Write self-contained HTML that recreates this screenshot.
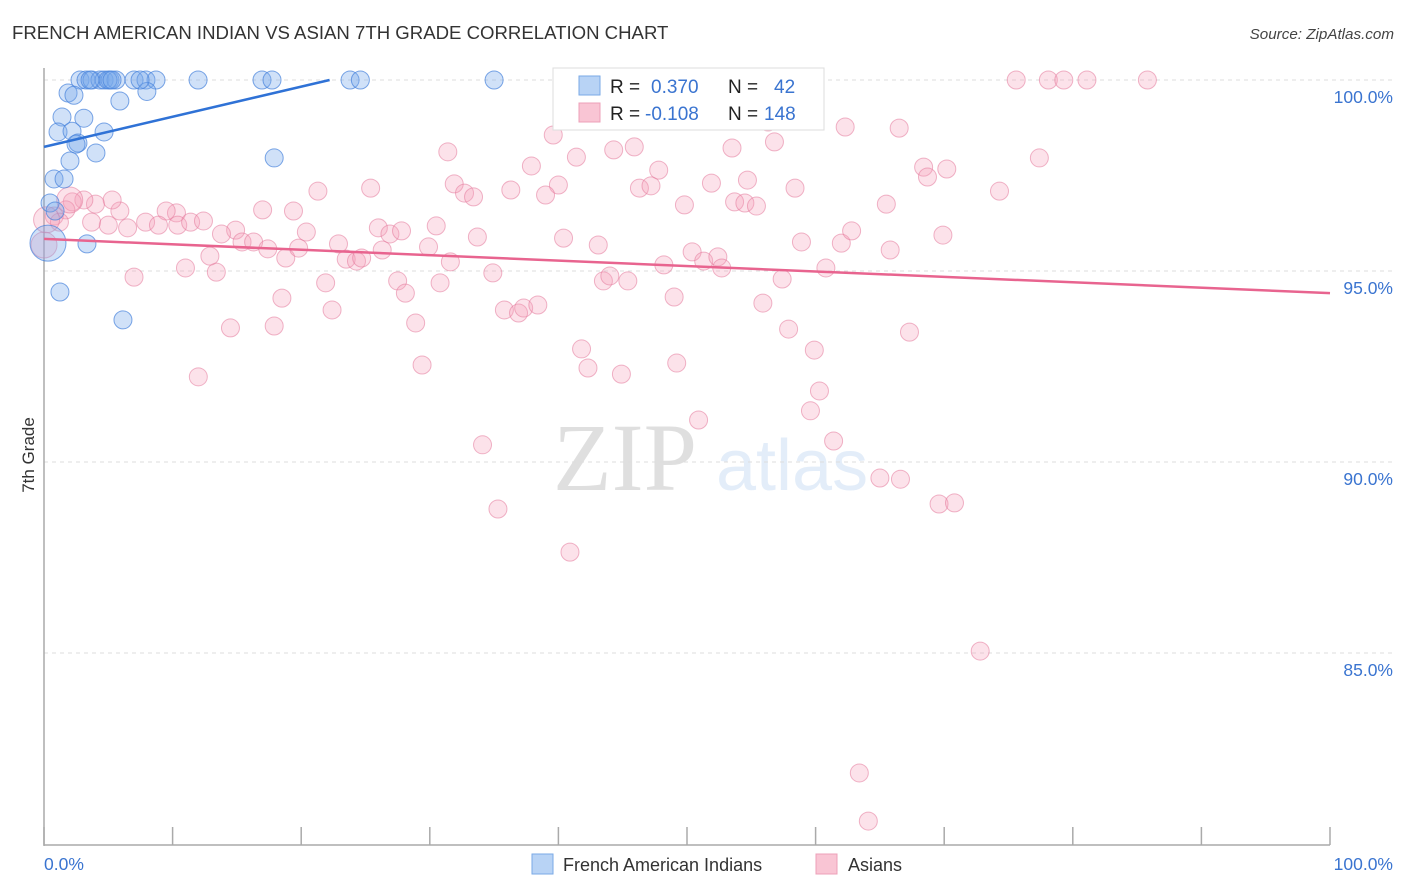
<!DOCTYPE html>
<html><head><meta charset="utf-8"><style>
body{margin:0;background:#fff;font-family:"Liberation Sans",sans-serif;}
#wrap{position:relative;width:1406px;height:892px;overflow:hidden;}
</style></head><body>
<div id="wrap">
<svg id="svg" width="1406" height="892" xmlns="http://www.w3.org/2000/svg">
<text x="12" y="39" font-size="18.6" fill="#333">FRENCH AMERICAN INDIAN VS ASIAN 7TH GRADE CORRELATION CHART</text>
<text x="1394" y="39" font-size="15.2" fill="#444" font-style="italic" text-anchor="end">Source: ZipAtlas.com</text>
<text transform="translate(34,455) rotate(-90)" font-size="17" fill="#333" text-anchor="middle">7th Grade</text>
<g opacity="0.18">
<text x="553" y="490" font-size="96" font-family="Liberation Serif,serif" fill="#555">ZIP</text>
<text x="716" y="490" font-size="72" fill="#6a9ee0">atlas</text>
</g>
<g id="grid"></g>
<g id="axes"></g>
<g id="marks"></g>
<g>
<rect x="553" y="68" width="271" height="62" fill="#fff" stroke="#ddd"/>
<rect x="579" y="76" width="21" height="19" fill="#b8d3f5" stroke="#7aaae6"/>
<rect x="579" y="103" width="21" height="19" fill="#f9c5d4" stroke="#eda0b8"/>
<text x="610" y="93" font-size="19" fill="#222">R =</text>
<text x="651" y="93" font-size="19" fill="#3a74d0">0.370</text>
<text x="728" y="93" font-size="19" fill="#222">N =</text>
<text x="774" y="93" font-size="19" fill="#3a74d0">42</text>
<text x="610" y="120" font-size="19" fill="#222">R =</text>
<text x="645" y="120" font-size="19" fill="#3a74d0">-0.108</text>
<text x="728" y="120" font-size="19" fill="#222">N =</text>
<text x="764" y="120" font-size="19" fill="#3a74d0">148</text>
</g>
<g>
<rect x="532" y="854" width="21" height="20" fill="#b8d3f5" stroke="#7aaae6"/>
<text x="563" y="871" font-size="18" fill="#333">French American Indians</text>
<rect x="816" y="854" width="21" height="20" fill="#f9c5d4" stroke="#eda0b8"/>
<text x="848" y="871" font-size="18" fill="#333">Asians</text>
</g>
</svg>
</div>
<script>
const NS="http://www.w3.org/2000/svg";
const yTicks=[100,95,90,85];
const yTickLabels=["100.0%","95.0%","90.0%","85.0%"];
const xTickLabels=["0.0%","100.0%"];
const blueX=[2.8,3.27,3.73,4.35,4.67,5.13,5.6,7.0,7.93,8.71,11.98,16.95,17.73,23.8,24.6,35.0,8.0,1.87,2.33,5.9,1.4,3.1,4.67,1.09,2.18,2.64,2.49,4.04,2.02,17.9,0.78,1.56,0.47,0.86,0.31,3.34,1.24,6.14,4.98,5.29,3.58,7.47];
const blueY=[100,100,100,100,100,100,100,100,100,100,100,100,100,100,100,100,99.7,99.66,99.6,99.45,99.03,99.0,98.64,98.64,98.66,98.35,98.32,98.09,97.88,97.96,97.41,97.41,96.78,96.57,95.73,95.71,94.45,93.72,100,100,100,100];
const pinkX=[75.6,78.1,79.3,81.1,85.8,56.3,39.6,31.4,41.4,44.3,45.9,62.3,66.5,53.5,56.8,77.4,68.4,70.2,68.7,47.8,37.9,31.9,32.7,33.4,36.3,40.0,39.0,46.3,47.2,51.9,54.7,58.4,74.3,21.3,25.4,49.8,53.7,54.5,55.4,65.5,17.0,19.4,10.3,9.5,5.9,5.3,4.0,3.1,2.2,1.7,0.8,1.2,3.7,5.0,6.5,7.9,8.9,10.4,11.4,12.4,14.9,13.8,15.4,16.3,17.4,18.8,19.8,20.4,22.9,23.5,24.3,24.7,26.0,26.3,26.9,27.8,29.9,30.5,33.7,34.9,31.6,30.8,27.5,28.1,21.9,18.5,22.4,28.9,35.8,36.9,37.3,38.4,40.4,43.1,43.5,44.0,45.4,48.2,49.0,50.4,51.3,52.4,52.7,57.4,58.9,60.8,62.0,62.8,65.8,69.9,14.5,17.9,12.0,29.4,41.8,42.3,44.9,49.2,55.9,57.9,59.9,60.3,59.6,67.3,50.9,34.1,61.4,65.0,66.6,69.6,70.8,35.3,40.9,72.8,63.4,64.1,7.0,11.0,13.4,12.9,0.0,0.2,2.0];
const pinkY=[100,100,100,100,100,98.90,98.56,98.12,97.98,98.17,98.25,98.77,98.74,98.22,98.38,97.96,97.72,97.67,97.46,97.64,97.75,97.28,97.04,96.94,97.12,97.25,96.99,97.17,97.23,97.30,97.38,97.17,97.09,97.09,97.17,96.73,96.81,96.78,96.70,96.75,96.60,96.57,96.52,96.57,96.57,96.86,96.75,96.86,96.81,96.60,96.44,96.28,96.28,96.20,96.13,96.28,96.20,96.20,96.28,96.31,96.07,95.97,95.76,95.76,95.58,95.34,95.60,96.02,95.71,95.31,95.26,95.34,96.13,95.55,95.97,96.05,95.63,96.18,95.89,94.95,95.24,94.69,94.74,94.42,94.69,94.29,93.98,93.64,93.98,93.90,94.03,94.11,95.86,95.68,94.74,94.87,94.74,95.16,94.32,95.50,95.26,95.37,95.08,94.79,95.76,95.08,95.73,96.05,95.55,95.94,93.51,93.56,92.23,92.54,92.96,92.46,92.30,92.59,94.16,93.48,92.93,91.86,91.34,93.40,91.10,90.45,90.55,89.58,89.55,88.90,88.93,88.77,87.64,85.05,81.86,80.60,94.84,95.08,94.97,95.39,95.68,96.34,96.86];
const blueTrend=[98.25,0.0788];
const pinkTrend=[95.84,-0.0142];
const X0=44,X1=1330,Y100=80,PX=38.2;
function sx(v){return X0+(X1-X0)*v/100;}
function sy(v){return Y100+(100-v)*PX;}
function mk(tag,attrs,parent){const e=document.createElementNS(NS,tag);for(const k in attrs)e.setAttribute(k,attrs[k]);parent.appendChild(e);return e;}
const grid=document.getElementById('grid'),axes=document.getElementById('axes'),marks=document.getElementById('marks');
yTicks.forEach((t,i)=>{
 const l=mk('line',{x1:X0,x2:1393,y1:sy(t),y2:sy(t),stroke:'#ddd','stroke-dasharray':'4,4'},grid);
 
 
 const tx=mk('text',{x:1393,y:sy(t)+23,'font-size':17.5,fill:'#3a74d0','text-anchor':'end'},axes);
 tx.textContent=yTickLabels[i];
 
 
});
const ya=mk('line',{x1:X0,x2:X0,y1:68,y2:846,stroke:'#aaa','stroke-width':1.5},axes);


const xa=mk('line',{x1:X0,x2:X1,y1:845,y2:845,stroke:'#aaa','stroke-width':1.5},axes);


for(let i=0;i<=10;i++){
 const t=mk('line',{x1:sx(i*10),x2:sx(i*10),y1:827,y2:845,stroke:'#aaa','stroke-width':1.5},axes);
 
 
}
const xl0=mk('text',{x:44,y:870,'font-size':17.5,fill:'#3a74d0'},axes);xl0.textContent=xTickLabels[0];


const xl1=mk('text',{x:1393,y:870,'font-size':17.5,fill:'#3a74d0','text-anchor':'end'},axes);xl1.textContent=xTickLabels[1];


pinkX.forEach((x,i)=>{
 const r=(i>=pinkX.length-3)?13:9;
 const c=mk('circle',{cx:sx(x),cy:sy(pinkY[i]),r:r,fill:'rgba(244,160,185,0.3)',stroke:'rgba(228,120,155,0.55)','stroke-width':1},marks);
 
 
});
blueX.forEach((x,i)=>{
 const r=(i===34)?18:9;
 const c=mk('circle',{cx:sx(x),cy:sy(blueY[i]),r:r,fill:'rgba(120,170,235,0.35)',stroke:'rgba(70,130,220,0.7)','stroke-width':1},marks);
 
 
});
const bEnd=(100-blueTrend[0])/blueTrend[1];
const bl=mk('line',{x1:sx(0),y1:sy(blueTrend[0]),x2:sx(bEnd),y2:sy(100),stroke:'#2f72d6','stroke-width':2.5},marks);


const pl=mk('line',{x1:sx(0),y1:sy(pinkTrend[0]),x2:sx(100),y2:sy(pinkTrend[0]+pinkTrend[1]*100),stroke:'#e8648f','stroke-width':2.5},marks);


</script>
</body></html>
